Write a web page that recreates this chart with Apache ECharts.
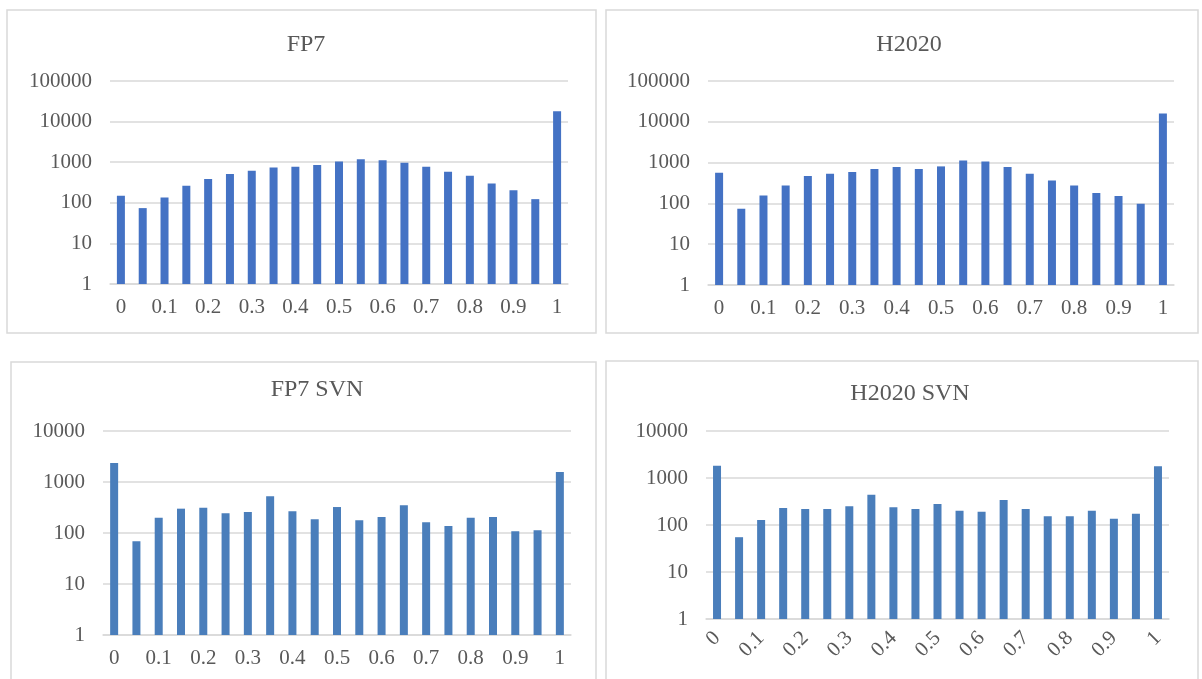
<!DOCTYPE html>
<html>
<head>
<meta charset="utf-8">
<script src="https://cdn.jsdelivr.net/npm/echarts@6/dist/echarts.min.js"></script>
<style>
  html, body { margin: 0; padding: 0; background: #ffffff; }
  #chart { width: 1202px; height: 679px; }
</style>
</head>
<body>
<div id="chart"></div>
<script>
// Similarity bins 0, 0.05, ..., 1
const categories = ['0','0.05','0.1','0.15','0.2','0.25','0.3','0.35','0.4','0.45','0.5',
                    '0.55','0.6','0.65','0.7','0.75','0.8','0.85','0.9','0.95','1'];

const panelTitles = ['FP7', 'H2020', 'FP7 SVN', 'H2020 SVN'];

const fp7Counts = [150, 74, 135, 263, 383, 509, 615, 743, 771, 849, 1040,
                   1190, 1120, 963, 771, 581, 463, 300, 205, 123, 18000];
const h2020Counts = [565, 74, 157, 276, 468, 533, 586, 694, 777, 694, 807,
                     1120, 1058, 777, 533, 366, 276, 179, 151, 98, 16000];
const fp7SvnCounts = [2360, 69, 200, 300, 314, 243, 258, 523, 266, 185, 323,
                      177, 206, 349, 162, 137, 200, 206, 108, 113, 1570];
const h2020SvnCounts = [1830, 55, 128, 230, 219, 219, 250, 442, 238, 219, 280,
                        202, 192, 340, 219, 153, 153, 202, 136, 174, 1770];

// Upper bound of each panel's log axis
const axisMax = [100000, 100000, 10000, 10000];

const seriesData = [fp7Counts, h2020Counts, fp7SvnCounts, h2020SvnCounts];

const textColor = '#595959';
const lineColor = '#d9d9d9';
const fontFamily = '"Liberation Serif", "Times New Roman", serif';

// Panel frames and plotting areas
const frames = [
  { x: 7,   y: 10,  w: 589, h: 323 },
  { x: 606, y: 10,  w: 592, h: 323 },
  { x: 11,  y: 362, w: 585, h: 330 },
  { x: 606, y: 361, w: 592, h: 330 }
];
const grids = [
  { left: 110, top: 81,  width: 458, height: 203 },
  { left: 708, top: 81,  width: 466, height: 204 },
  { left: 103, top: 431, width: 468, height: 204 },
  { left: 706, top: 431, width: 463, height: 188 }
];
const titlePos = [
  { x: 301, y: 28 },
  { x: 904, y: 28 },
  { x: 312, y: 373 },
  { x: 905, y: 377 }
];
const barColors = ['#4472C4', '#4472C4', '#4A7EBB', '#4A7EBB'];

const option = {
  animation: false,
  backgroundColor: '#ffffff',
  textStyle: { fontFamily: fontFamily },
  graphic: frames.map(f => ({
    type: 'rect',
    shape: { x: f.x, y: f.y, width: f.w, height: f.h },
    style: { fill: 'none', stroke: lineColor, lineWidth: 1.5 },
    z: -1
  })),
  title: panelTitles.map((t, i) => ({
    text: t,
    left: titlePos[i].x,
    top: titlePos[i].y,
    textAlign: 'center',
    textStyle: { fontFamily: fontFamily, fontSize: 24, fontWeight: 'normal', color: textColor }
  })),
  grid: grids.map(g => Object.assign({ containLabel: false }, g)),
  xAxis: grids.map((g, i) => ({
    type: 'category',
    gridIndex: i,
    data: categories,
    boundaryGap: true,
    axisLine: { show: true, lineStyle: { color: lineColor, width: 1.5 } },
    axisTick: { show: false },
    axisLabel: {
      interval: 1,
      color: textColor,
      fontFamily: fontFamily,
      fontSize: 21,
      margin: i === 3 ? 16 : 13,
      rotate: i === 3 ? 45 : 0
    },
    splitLine: { show: false }
  })),
  yAxis: grids.map((g, i) => ({
    type: 'log',
    logBase: 10,
    gridIndex: i,
    min: 1,
    max: axisMax[i],
    axisLine: { show: false },
    axisTick: { show: false },
    axisLabel: {
      color: textColor,
      fontFamily: fontFamily,
      fontSize: 21,
      margin: 18,
      formatter: v => String(Math.round(v))
    },
    splitLine: { show: true, lineStyle: { color: lineColor, width: 1.5 } }
  })),
  series: seriesData.map((d, i) => ({
    type: 'bar',
    xAxisIndex: i,
    yAxisIndex: i,
    data: d,
    barWidth: 8,
    itemStyle: { color: barColors[i] }
  }))
};

const chart = echarts.init(document.getElementById('chart'), null, { renderer: 'canvas' });
chart.setOption(option);
</script>
</body>
</html>
